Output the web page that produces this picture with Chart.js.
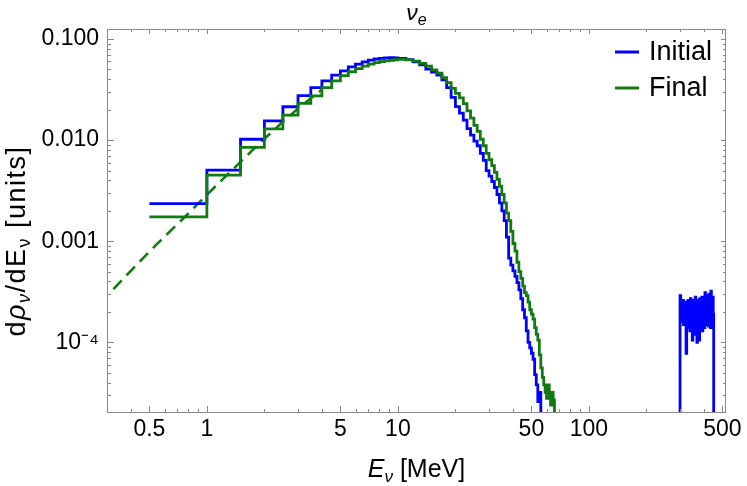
<!DOCTYPE html>
<html>
<head>
<meta charset="utf-8">
<script src="https://cdn.jsdelivr.net/npm/chart.js@4.4.1/dist/chart.umd.min.js"></script>
<style>
  html, body { margin:0; padding:0; background:#fff; }
</style>
</head>
<body>
<canvas id="c" width="747" height="486"></canvas>
<script>
// ---------- data ----------
// left bin edges in MeV, 0.5 MeV bins up to 10, then 1 MeV bins
const energies = [0.5,1,1.5,2,2.5,3,3.5,4,4.5,5,5.5,6,6.5,7,7.5,8,8.5,9,9.5,
  10,11,12,13,14,15,16,17,18,19,20,21,22,23,24,25,26,27,28,29,30,
  31,32,33,34,35,36,37,38,39,40,41,42,43,44,45,46,47,48,49,50,
  51,52,53,54,55,56,57,58,59,60,61,62,63,64,65,66];

const initialVals = [0.00236,0.00504,0.0102,0.0155,0.0214,0.0275,0.0330,0.0386,0.0440,0.0485,0.0530,0.0565,0.0595,0.0620,0.0635,0.0645,0.0652,0.0655,0.0650,
  0.0645,0.0625,0.0595,0.0555,0.0505,0.0470,0.0440,0.0395,0.0330,0.0265,0.0215,0.0185,0.0158,0.0130,0.0112,0.0098,0.0088,0.0074,0.0063,0.0050,0.0044,
  0.0039,0.0034,0.0029,0.0024,0.0020,0.0016,0.0011,0.00068,0.00058,0.00051,0.00045,0.00039,0.00033,0.00027,0.00021,0.000175,0.00013,0.000100,0.000088,0.000078,
  0.000068,0.000048,0.000038,0.000026,0.000032,0,0,0,0,0,0,0,0,0,0,0];

const finalVals = [0.00174,0.0045,0.00847,0.0129,0.0177,0.0231,0.0274,0.0331,0.0386,0.0435,0.0475,0.0510,0.0540,0.0565,0.0585,0.0598,0.0608,0.0617,0.0624,
  0.0628,0.0622,0.0605,0.0575,0.0540,0.0495,0.0460,0.0415,0.0370,0.0325,0.0290,0.0262,0.0230,0.0195,0.0165,0.0140,0.0122,0.0102,0.0088,0.0074,0.0064,
  0.0056,0.0048,0.0041,0.0035,0.0029,0.0024,0.0019,0.0016,0.00125,0.00095,0.00080,0.00062,0.00050,0.00043,0.00036,0.00031,0.00029,0.00025,0.00021,0.00019,
  0.00017,0.00014,0.00012,0.000105,0.000075,0.000056,0.000045,0.000038,0.000032,0.000028,0.000038,0.000030,0.000024,0.000032,0.000027,0];

// high-energy blob of the initial spectrum, 2.5 MeV bins
const highEnergies = [300,302.5,305,307.5,310,312.5,315,317.5,320,322.5,325,327.5,330,332.5,335,337.5,340,342.5,345,347.5,
  350,352.5,355,357.5,360,362.5,365,367.5,370,372.5,375,377.5,380,382.5,385,387.5,390,392.5,395,397.5,
  400,402.5,405,407.5,410,412.5,415,417.5,420,422.5,425,427.5,430,432.5,435,437.5,440,442.5,445,447.5,450];
const highInitialVals = [2.9e-4,1.6e-4,2.4e-4,1.9e-4,2.6e-4,1.5e-4,2.3e-4,1.8e-4,2.5e-4,0.78e-4,2.2e-4,1.4e-4,2.6e-4,1.7e-4,2.3e-4,1.3e-4,2.7e-4,1.9e-4,2.4e-4,1.05e-4,
  2.6e-4,1.6e-4,2.5e-4,1.2e-4,2.8e-4,1.5e-4,2.2e-4,1.0e-4,2.6e-4,1.7e-4,2.4e-4,1.05e-4,2.7e-4,1.4e-4,2.3e-4,1.6e-4,2.8e-4,1.3e-4,2.5e-4,1.8e-4,
  2.2e-4,1.4e-4,3.1e-4,1.7e-4,2.6e-4,1.5e-4,2.9e-4,1.9e-4,2.4e-4,1.45e-4,3.0e-4,1.8e-4,2.7e-4,1.4e-4,3.2e-4,1.6e-4,2.5e-4,1.7e-4,2.8e-4,1.9e-4,0];

// dashed low-energy fit
const fitEnergies = [0.324,0.4,0.5,0.6,0.772,1.0,1.25,1.5,1.75,2.0,2.5,3.0,3.5,4.0];
const fitVals = [3.36e-4,5.1e-4,7.9e-4,1.11e-3,1.76e-3,2.88e-3,4.35e-3,6.1e-3,8.1e-3,1.03e-2,1.52e-2,2.05e-2,2.6e-2,3.15e-2];

// ticks
const xMajor = [0.5,1,5,10,50,100,500];
const xMajorLabels = ['0.5','1','5','10','50','100','500'];
const xMinor = [0.4,0.6,0.7,0.8,0.9,2,3,4,6,7,8,9,20,30,40,60,70,80,90,200,300,400];
const yMajor = [1e-4,1e-3,1e-2,1e-1];
const yMajorLabels = ['10\u207B\u2074','0.001','0.010','0.100'];
const yMinor = [3e-5,4e-5,5e-5,6e-5,7e-5,8e-5,9e-5,2e-4,3e-4,4e-4,5e-4,6e-4,7e-4,8e-4,9e-4,
  2e-3,3e-3,4e-3,5e-3,6e-3,7e-3,8e-3,9e-3,0.02,0.03,0.04,0.05,0.06,0.07,0.08,0.09];

const FONT = '"Liberation Sans", Arial, sans-serif';
const BLUE = '#0000ff', GREEN = '#127a12', FRAME = '#8a8a8a';
const FLOOR = 1e-9; // stands in for empty bins on the log axis

// ---------- helpers ----------
function stepPoints(es, vs) {
  return es.map((e,i)=> ({x:e, y: vs[i] > 0 ? vs[i] : FLOOR}));
}

function richText(ctx, parts, x, y, spacing) {
  // parts drawn left to right, centred on x, baseline y
  ctx.letterSpacing = (spacing||0) + 'px';
  let w = 0;
  parts.forEach(p=>{
    ctx.font = (p.italic?'italic ':'') + p.size + 'px ' + FONT;
    p.w = ctx.measureText(p.t).width; w += p.w;
  });
  let cx = x - w/2;
  ctx.textAlign = 'left'; ctx.textBaseline = 'alphabetic';
  parts.forEach(p=>{
    ctx.font = (p.italic?'italic ':'') + p.size + 'px ' + FONT;
    ctx.fillText(p.t, cx, y + (p.dy||0));
    cx += p.w;
  });
  ctx.letterSpacing = '0px';
}

// frame, inward ticks, titles, legend
const decor = {
  id:'decor',
  afterDatasetsDraw(chart) {
    const {ctx, chartArea:a, scales:{x, y}} = chart;
    ctx.save();
    ctx.strokeStyle = FRAME; ctx.lineWidth = 1;
    ctx.strokeRect(a.left+0.5, a.top+0.5, a.right-a.left-1, a.bottom-a.top-1);
    ctx.beginPath();
    const tx = (v, lb, lt)=>{ const p = Math.round(x.getPixelForValue(v))+0.5;
      ctx.moveTo(p, a.bottom); ctx.lineTo(p, a.bottom-lb);
      ctx.moveTo(p, a.top); ctx.lineTo(p, a.top+lt); };
    const ty = (v, ll, lr)=>{ const p = Math.round(y.getPixelForValue(v))+0.5;
      ctx.moveTo(a.left, p); ctx.lineTo(a.left+ll, p);
      ctx.moveTo(a.right, p); ctx.lineTo(a.right-lr, p); };
    xMajor.forEach(v=> tx(v, 7, 5));
    xMinor.forEach(v=> tx(v, 4, 3));
    yMajor.forEach(v=> ty(v, 7, 5));
    yMinor.forEach(v=> ty(v, 4, 3));
    ctx.stroke();

    ctx.fillStyle = '#000';
    const mid = (a.left+a.right)/2;
    richText(ctx, [{t:'\u03BD',size:23,italic:true},{t:'e',size:16,italic:true,dy:5}], mid, 20);
    richText(ctx, [{t:'E',size:25,italic:true},{t:'\u03BD',size:17,italic:true,dy:5},{t:' [MeV]',size:25}], mid, 477);

    ctx.save();
    ctx.translate(25, 241);
    ctx.rotate(-Math.PI/2);
    richText(ctx, [{t:'d',size:27},{t:'\u03C1',size:27,italic:true},{t:'\u03BD',size:18,italic:true,dy:5},
      {t:'/dE',size:27},{t:'\u03BD',size:18,dy:5},{t:' [units]',size:27}], 0, 0, 1.5);
    ctx.restore();

    // legend
    const items = chart.data.datasets.filter(d=> d.label);
    items.forEach((d,i)=>{
      const ly = 52 + i*36;
      ctx.strokeStyle = d.borderColor; ctx.lineWidth = 3;
      ctx.beginPath(); ctx.moveTo(615, ly); ctx.lineTo(639, ly); ctx.stroke();
      ctx.fillStyle = '#000'; ctx.font = '27px ' + FONT;
      ctx.textAlign = 'left'; ctx.textBaseline = 'middle';
      ctx.fillText(d.label, 649, ly+1);
    });
    ctx.restore();
  }
};

new Chart(document.getElementById('c'), {
  type:'line',
  data:{
    datasets:[
      {label:'Initial', data: stepPoints(energies.concat(highEnergies), initialVals.concat(highInitialVals)),
       borderColor:BLUE, borderWidth:2.8, stepped:'before', order:2},
      {label:'Final', data: stepPoints(energies, finalVals),
       borderColor:GREEN, borderWidth:2.8, stepped:'before', order:1},
      {data: stepPoints(fitEnergies, fitVals), borderColor:GREEN, borderWidth:2.6,
       borderDash:[12,7], tension:0, order:3}
    ]
  },
  options:{
    responsive:false, animation:false,
    layout:{padding:{top:29, right:21, left:0, bottom:0}},
    elements:{point:{radius:0}},
    plugins:{legend:{display:false}, tooltip:{enabled:false}},
    scales:{
      x:{
        type:'logarithmic', min:0.324, max:522,
        grid:{display:false, drawTicks:false}, border:{display:false},
        afterBuildTicks:(s)=>{ s.ticks = xMajor.map(v=>({value:v})); },
        afterFit:(s)=>{ s.height = 73; },
        ticks:{autoSkip:false, maxRotation:0, padding:3, color:'#000',
          font:{family:FONT, size:23}, callback:(v,i)=> xMajorLabels[i]}
      },
      y:{
        type:'logarithmic', min:2.0e-5, max:0.1257,
        grid:{display:false, drawTicks:false}, border:{display:false},
        afterBuildTicks:(s)=>{ s.ticks = yMajor.map(v=>({value:v})); },
        afterFit:(s)=>{ s.width = 107; },
        ticks:{autoSkip:false, padding:8, color:'#000',
          font:{family:FONT, size:23}, callback:(v,i)=> yMajorLabels[i]}
      }
    }
  },
  plugins:[decor]
});
</script>
</body>
</html>
